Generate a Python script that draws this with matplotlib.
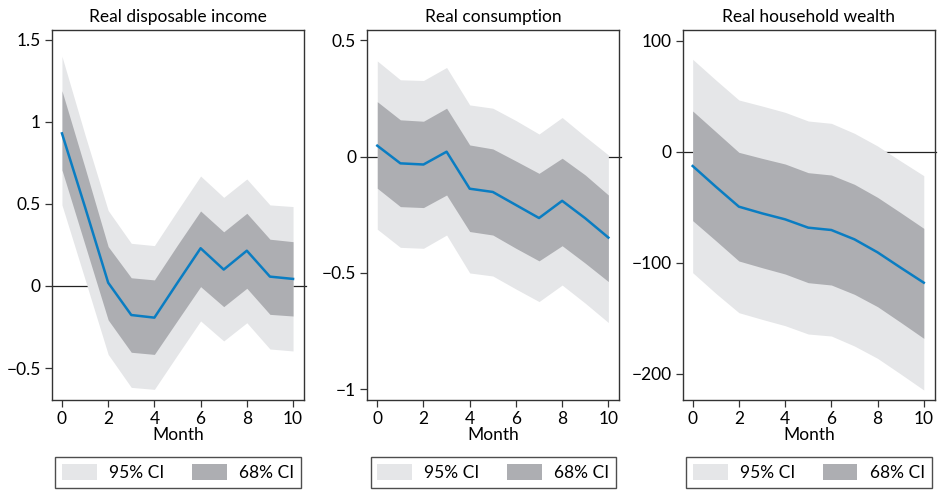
import matplotlib
matplotlib.use("Agg")
import matplotlib.pyplot as plt
from matplotlib.patches import Patch

plt.rcParams['font.family'] = ['Lato', 'DejaVu Sans']

months = list(range(11))

# Real disposable income
income_mean = [0.93, 0.48, 0.02, -0.177, -0.193, 0.02, 0.23, 0.10, 0.215, 0.057, 0.043]
income_lo68 = [0.707, 0.25, -0.207, -0.404, -0.417, -0.21, -0.004, -0.126, -0.014, -0.173, -0.183]
income_hi68 = [1.19, 0.72, 0.24, 0.05, 0.037, 0.25, 0.457, 0.33, 0.443, 0.285, 0.27]
income_lo95 = [0.494, 0.04, -0.417, -0.618, -0.63, -0.42, -0.213, -0.335, -0.224, -0.384, -0.396]
income_hi95 = [1.40, 0.92, 0.46, 0.26, 0.246, 0.46, 0.67, 0.54, 0.652, 0.494, 0.484]

# Real consumption
cons_mean = [0.047, -0.029, -0.034, 0.021, -0.138, -0.152, -0.208, -0.264, -0.19, -0.265, -0.348]
cons_lo68 = [-0.136, -0.215, -0.219, -0.165, -0.322, -0.337, -0.394, -0.448, -0.383, -0.458, -0.537]
cons_hi68 = [0.236, 0.158, 0.152, 0.208, 0.05, 0.033, -0.019, -0.072, -0.007, -0.079, -0.165]
cons_lo95 = [-0.312, -0.39, -0.394, -0.337, -0.5, -0.513, -0.569, -0.623, -0.552, -0.63, -0.713]
cons_hi95 = [0.411, 0.33, 0.327, 0.383, 0.222, 0.208, 0.155, 0.097, 0.168, 0.086, 0.007]

# Real household wealth
wealth_mean = [-12.9, -31.5, -49.5, -55.5, -60.9, -68.4, -70.5, -78.9, -90.6, -104.4, -117.9]
wealth_lo68 = [-62.1, -80.1, -98.4, -104.4, -110.1, -117.9, -120.0, -128.4, -139.5, -153.6, -168.0]
wealth_hi68 = [36.6, 18.0, -0.6, -6.0, -11.1, -18.9, -21.0, -29.4, -41.1, -54.9, -69.0]
wealth_lo95 = [-108.9, -127.5, -144.9, -150.9, -156.6, -164.1, -165.9, -174.9, -186.0, -200.1, -214.5]
wealth_hi95 = [83.1, 64.5, 46.5, 41.1, 35.4, 27.6, 25.5, 16.5, 5.1, -8.4, -21.6]

titles = ["Real disposable income", "Real consumption", "Real household wealth"]
yticks = [[1.5, 1, 0.5, 0, -0.5], [0.5, 0, -0.5, -1], [100, 0, -100, -200]]
ytick_labels = [["1.5", "1", "0.5", "0", "\u22120.5"],
                ["0.5", "0", "\u22120.5", "\u22121"],
                ["100", "0", "\u2212100", "\u2212200"]]
ylims = [(-0.695, 1.56), (-1.046, 0.544), (-223.5, 109.5)]
series = [
    (income_mean, income_lo68, income_hi68, income_lo95, income_hi95),
    (cons_mean, cons_lo68, cons_hi68, cons_lo95, cons_hi95),
    (wealth_mean, wealth_lo68, wealth_hi68, wealth_lo95, wealth_hi95),
]

c95 = "#e5e6e8"
c68 = "#adaeb2"
cline = "#0a7dc2"
cspine = "#333333"
fs = 12.5

fig = plt.figure(figsize=(9.39, 4.91), dpi=100)
lefts = [0.0554, 0.3912, 0.7271]

for i, (mean, lo68, hi68, lo95, hi95) in enumerate(series):
    ax = fig.add_axes([lefts[i], 0.1853, 0.2685, 0.7536])
    # zero reference line sits under the bands, runs a little past the right frame
    ax.plot([-0.43, 10.55], [0, 0], color="#222222", lw=0.9, clip_on=False, zorder=0.5)
    ax.fill_between(months, lo95, hi95, color=c95, lw=0, zorder=1)
    ax.fill_between(months, lo68, hi68, color=c68, lw=0, zorder=1.2)
    ax.plot(months, mean, color=cline, lw=1.8, zorder=3)

    ax.set_xlim(-0.43, 10.48)
    ax.set_ylim(*ylims[i])
    ax.set_xticks([0, 2, 4, 6, 8, 10])
    ax.set_yticks(yticks[i])
    ax.set_yticklabels(ytick_labels[i])
    ax.tick_params(direction="out", length=5, width=0.9, color=cspine,
                   labelsize=fs, pad=3)
    for s in ax.spines.values():
        s.set_color(cspine)
        s.set_linewidth(1.0)
    ax.set_title(titles[i], fontsize=fs, pad=6)
    ax.set_xlabel("Month", fontsize=fs, labelpad=0)

    handles = [Patch(facecolor=c95, edgecolor="none", label="95% CI"),
               Patch(facecolor=c68, edgecolor="none", label="68% CI")]
    leg = ax.legend(handles=handles, loc="upper center", bbox_to_anchor=(0.5, -0.155),
                    ncol=2, frameon=True, fancybox=False, fontsize=fs,
                    handlelength=2.0, handleheight=1.05, handletextpad=0.7,
                    columnspacing=1.6, borderpad=0.4, borderaxespad=0)
    leg.get_frame().set_edgecolor("#222222")
    leg.get_frame().set_linewidth(1.0)

fig.savefig("out.png", dpi=100)
